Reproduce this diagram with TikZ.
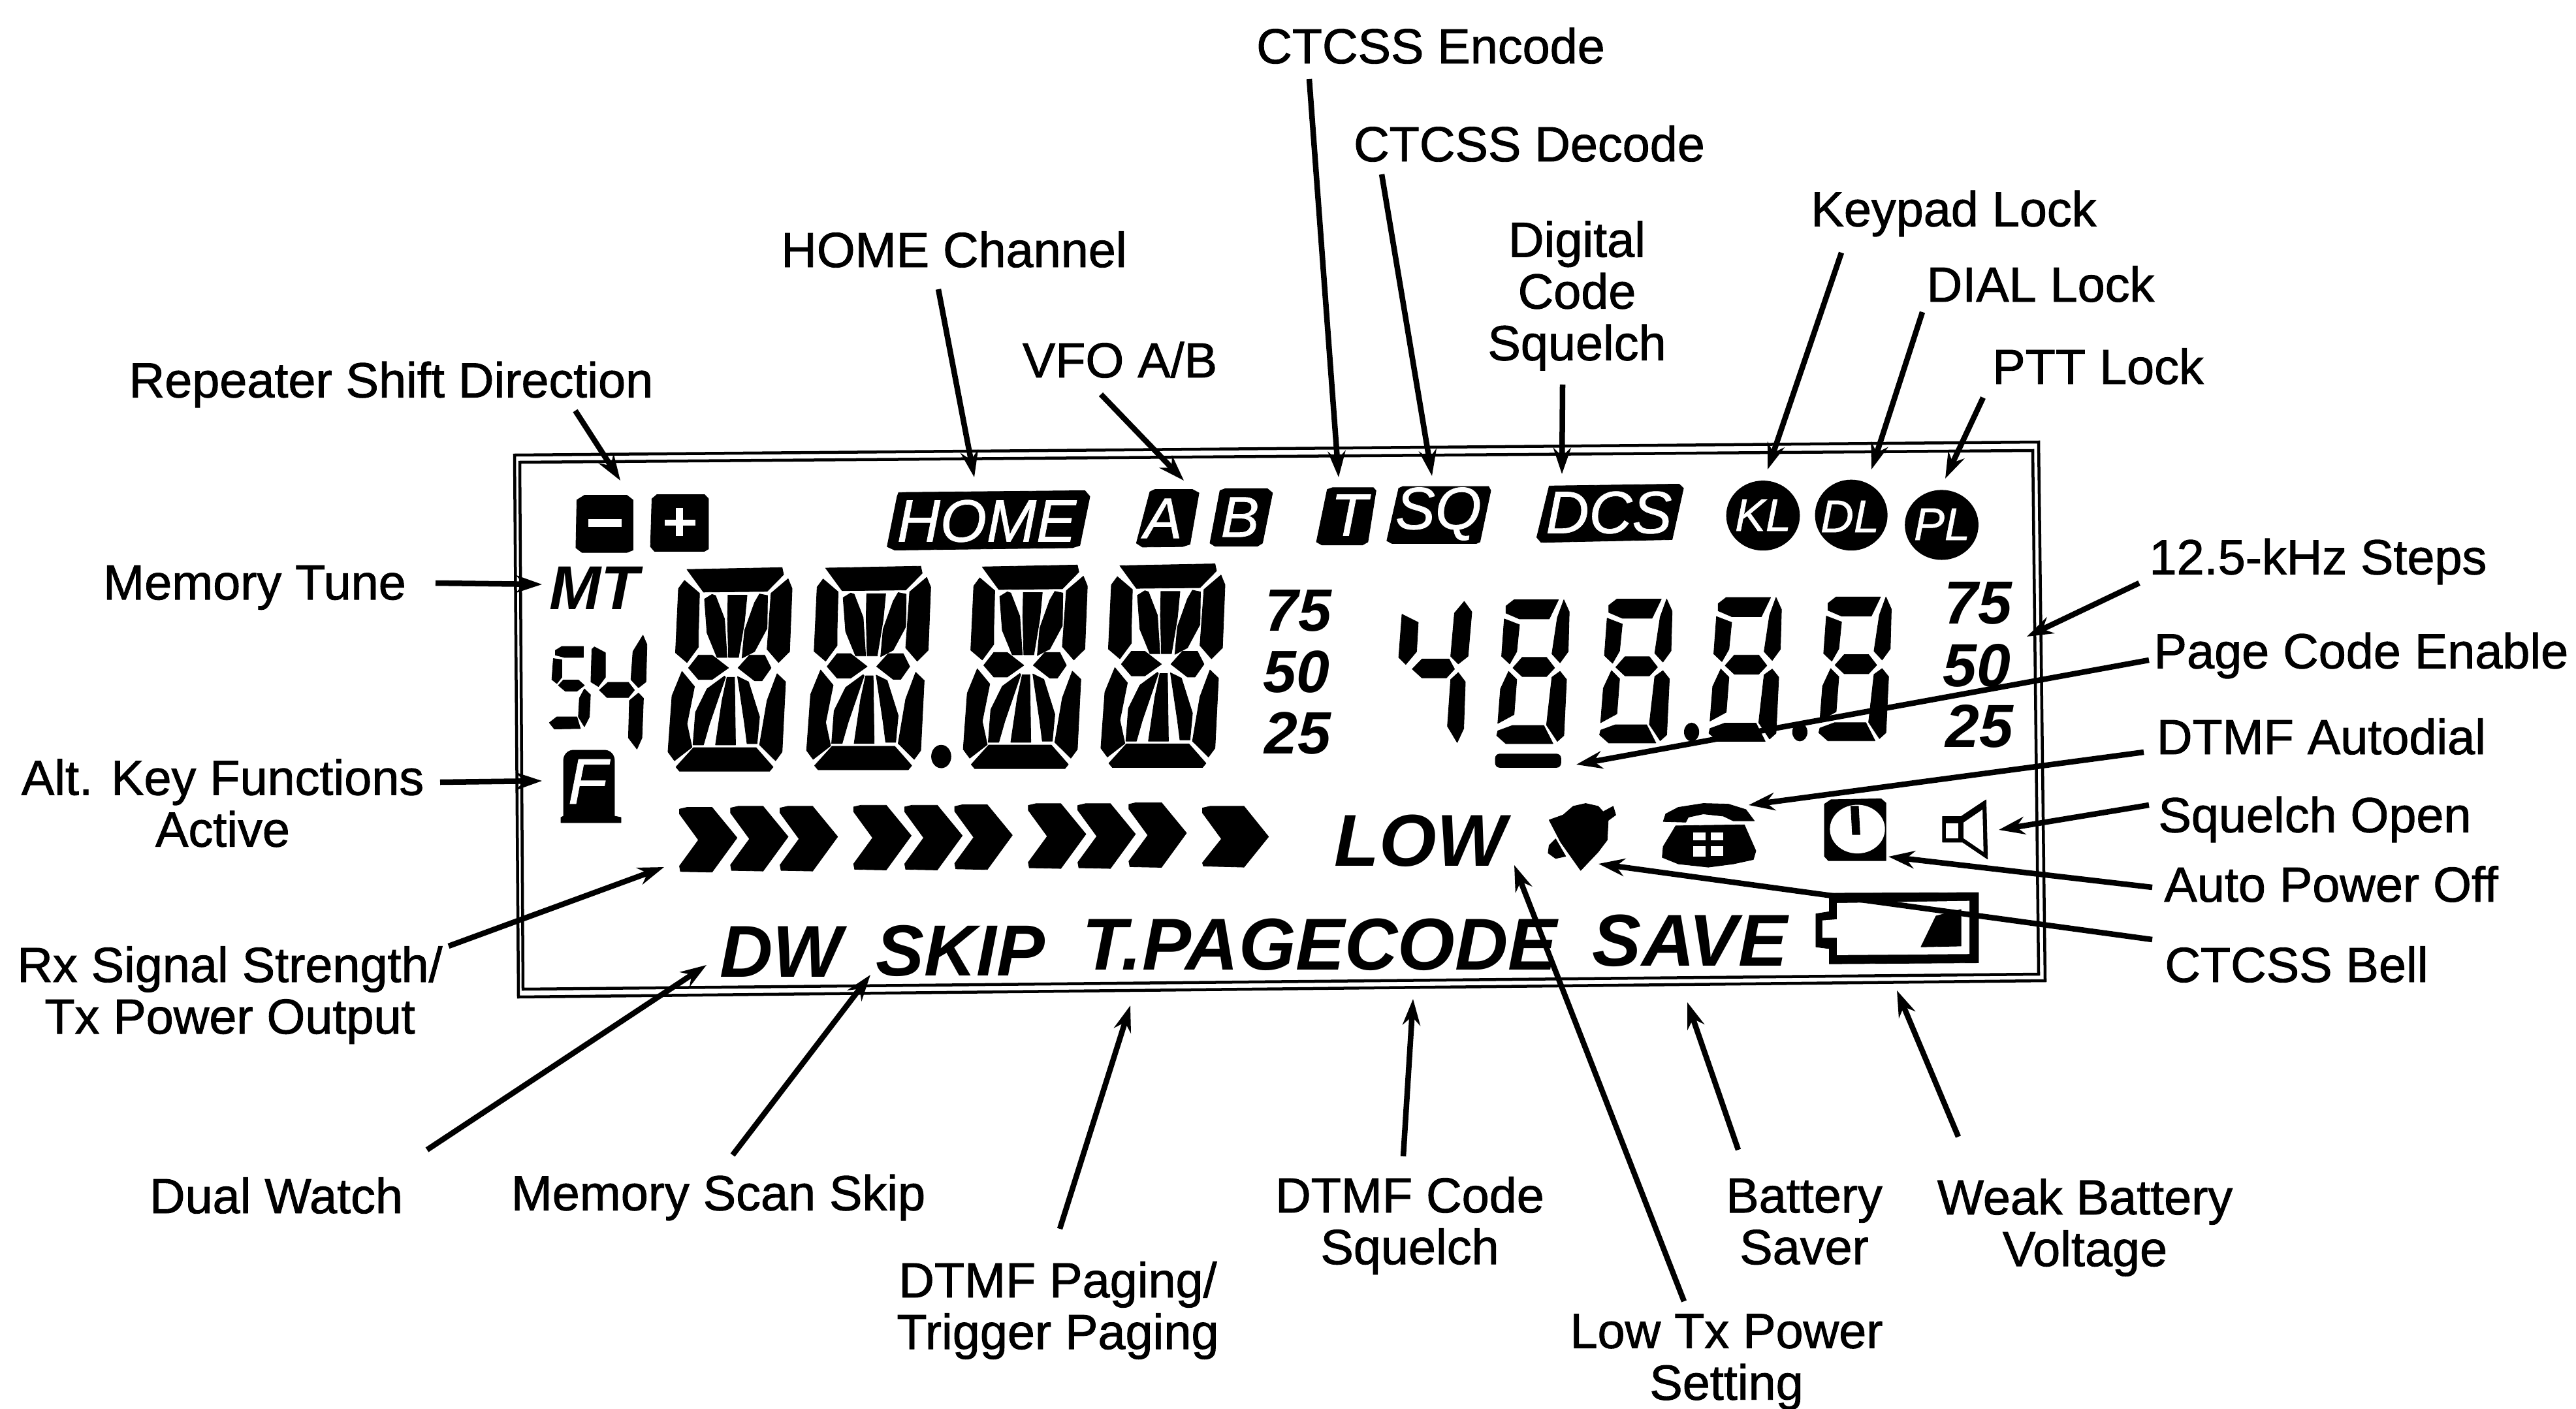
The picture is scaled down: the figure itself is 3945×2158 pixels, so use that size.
\documentclass[tikz,border=0pt]{standalone}
\usepackage{fontspec}
\setmainfont{Liberation Sans}
\newfontfamily\lblfont[FakeBold=1.2]{Liberation Sans}
\newfontfamily\wfont[FakeBold=0.8]{Liberation Sans}
\usetikzlibrary{arrows.meta}
\newcommand{\lcdpoly}[1]{\fill[lcdseg] plot coordinates {#1} -- cycle;}
\newcommand{\lcdwhite}[1]{\fill[lcdhole] plot coordinates {#1} -- cycle;}
\newcommand{\bigdig}[2]{\begin{scope}[shift={(#1,#2)}]
\lcdpoly{(355,538)(545,530)(548,560)(515,632)(388,635)}
\lcdpoly{(350,585)(380,640)(378,800)(378,870)(355,937)(332,895)(338,620)}
\lcdpoly{(557,578)(565,620)(560,890)(538,937)(515,880)(523,640)}
\lcdpoly{(405,645)(412,650)(430,750)(435,915)(415,915)(395,810)(390,665)}
\lcdpoly{(437,648)(475,648)(470,760)(458,915)(438,915)(436,750)}
\lcdpoly{(500,643)(516,650)(515,790)(490,890)(465,918)(470,800)(490,680)}
\lcdpoly{(378,905)(405,905)(438,960)(405,1010)(378,1010)(358,960)}
\lcdpoly{(480,905)(510,905)(523,960)(505,1015)(490,1015)(457,960)}
\lcdpoly{(345,975)(370,1040)(355,1200)(365,1300)(330,1358)(317,1320)(325,1080)}
\lcdpoly{(535,985)(552,1020)(545,1320)(532,1358)(500,1290)(515,1100)}
\lcdpoly{(430,995)(432,1000)(400,1200)(388,1290)(367,1290)(372,1150)(395,1050)}
\lcdpoly{(435,1000)(450,1000)(452,1290)(412,1290)(425,1100)}
\lcdpoly{(456,997)(478,1020)(500,1170)(495,1285)(475,1285)(470,1200)}
\lcdpoly{(368,1302)(493,1302)(527,1385)(520,1403)(340,1403)(333,1385)}
\end{scope}}
\newcommand{\sevdig}[2]{\begin{scope}[shift={(#1,#2)}]
\lcdpoly{(505,668)(587,668)(570,750)(515,750)(490,725)(490,695)}
\lcdpoly{(597,668)(607,720)(605,890)(590,938)(575,900)(585,745)}
\lcdpoly{(487,750)(515,775)(510,890)(497,943)(482,910)}
\lcdpoly{(520,915)(565,915)(580,960)(565,997)(520,997)(503,960)}
\lcdpoly{(590,975)(602,1010)(597,1250)(585,1275)(565,1205)(575,1000)}
\lcdpoly{(495,975)(510,1010)(505,1160)(475,1198)(480,1050)}
\lcdpoly{(502,1207)(560,1207)(577,1285)(490,1285)(473,1250)(475,1230)}
\end{scope}}
\newcommand{\chev}[2]{\begin{scope}[shift={(#1,#2)}]
\lcdpoly{(0,8)(15,0)(65,0)(115,140)(65,298)(2,295)(0,270)(38,150)(0,30)}
\end{scope}}
\tikzset{
 lcdseg/.style={fill=black,draw=black,line width=0.25pt,line join=round},
 lcdhole/.style={fill=white,draw=none},
 lbl/.style={font=\lblfont\fontsize{21.5}{22.5}\selectfont,align=center,inner sep=0pt,text=black},
 arr/.style={draw=black,line width=0.085cm,-{Stealth[length=0.4cm,width=0.27cm]}},
 whitelab/.style={text=white,inner sep=0pt,font=\wfont\itshape\fontsize{#1}{#1}\selectfont},
 boldlab/.style={text=black,inner sep=0pt,font=\bfseries\itshape\fontsize{#1}{#1}\selectfont},
 frameline/.style={draw=black,line width=0.045cm,line join=miter},
}
\begin{document}
\begin{tikzpicture}[x=0.01cm,y=-0.01cm]
\useasboundingbox (0,0) rectangle (3945,2158);
\fill[white] (0,0) rectangle (3945,2158);
% frame
\draw[frameline] (788,697)--(3122,677)--(3132,1502)--(794,1527)--cycle;
\draw[frameline] (796,708)--(3113,690)--(3122,1492)--(801,1515)--cycle;
% left area, zoom units of crop 1
\begin{scope}[shift={(780,680)},x=0.007653cm,y=-0.003571cm]
\lcdpoly{(135,240)(150,220)(235,220)(247,240)(247,455)(235,465)(145,465)(133,445)}
\lcdwhite{(158,322)(224,322)(224,355)(158,355)}
\lcdpoly{(285,235)(295,217)(390,217)(398,235)(398,450)(390,460)(290,460)(282,440)}
\lcdwhite{(310,325)(372,325)(372,350)(310,350)}
\lcdwhite{(333,275)(347,275)(347,395)(333,395)}
\lcdpoly{(778,208)(1150,200)(1160,225)(1140,435)(1125,445)(770,455)(755,440)(775,225)}
\lcdpoly{(1280,205)(1290,195)(1365,195)(1378,210)(1360,430)(1345,440)(1265,442)(1253,425)}
\lcdpoly{(1420,200)(1430,192)(1515,192)(1525,210)(1505,425)(1495,438)(1410,438)(1400,425)}
\bigdig{0}{0}
\bigdig{277}{-6}
\bigdig{590}{-11}
\bigdig{865}{-16}
\fill (863,1340) ellipse [x radius=20,y radius=50];
% 54
\lcdpoly{(92,885)(105,868)(148,868)(148,915)(110,915)(92,905)}
\lcdpoly{(88,920)(105,925)(105,1000)(95,1027)(85,1010)}
\lcdpoly{(108,1012)(138,1012)(150,1035)(135,1060)(112,1060)(98,1035)}
\lcdpoly{(150,1050)(162,1075)(160,1170)(150,1212)(138,1170)(140,1090)}
\lcdpoly{(95,1170)(135,1170)(142,1220)(90,1222)(80,1195)}
\lcdpoly{(170,870)(192,895)(192,1000)(178,1040)(163,1020)(165,880)}
\lcdpoly{(267,820)(275,860)(273,1020)(258,1045)(243,1010)(247,890)}
\lcdpoly{(197,1022)(238,1022)(250,1055)(238,1087)(195,1087)(180,1055)}
\lcdpoly{(258,1068)(268,1090)(265,1260)(255,1308)(238,1260)(240,1100)}
\end{scope}
% F box
\fill[lcdseg] (863,1165) to[out=90,in=180] (878,1149) -- (926,1149) to[out=0,in=90] (941,1165) -- (941,1250) -- (951,1252) -- (951,1260) -- (859,1260) -- (859,1252) -- (863,1250) -- cycle;
\node[whitelab=28] (fsym) at (900,1197) {F};
% right area, crop 2
\begin{scope}[shift={(1900,680)},x=0.00829cm,y=-0.003571cm]
\lcdpoly{(160,195)(170,187)(245,187)(250,200)(235,420)(225,433)(150,433)(140,420)}
\lcdpoly{(292,190)(300,182)(458,182)(462,200)(442,420)(435,427)(280,427)(270,415)}
\lcdpoly{(570,180)(810,172)(818,190)(797,410)(555,422)(547,400)}
\fill (965,307) ellipse [x radius=68,y radius=150];
\fill (1128,305) ellipse [x radius=67,y radius=152];
\fill (1295,347) ellipse [x radius=68,y radius=150];
\lcdpoly{(298,730)(328,765)(325,890)(305,945)(292,915)}
\lcdpoly{(413,675)(427,720)(420,910)(402,943)(388,910)(395,725)}
\lcdpoly{(335,922)(385,922)(395,965)(380,1003)(335,1003)(317,965)}
\lcdpoly{(402,980)(415,1020)(412,1220)(400,1280)(382,1210)(388,1010)}
\sevdig{0}{0}
\sevdig{190}{-3}
\sevdig{392}{-10}
\sevdig{595}{-12}
\fill (833,1235) ellipse [x radius=14,y radius=40];
\fill (1033,1235) ellipse [x radius=14,y radius=40];
\fill[rounded corners=2pt] (470,1328) rectangle (592,1388);
\end{scope}
% chevrons, crop 3
\begin{scope}[shift={(780,1180)},x=0.007653cm,y=-0.003333cm]
\chev{340}{170}
\chev{442}{165}
\chev{541}{165}
\chev{688}{160}
\chev{790}{160}
\chev{890}{158}
\chev{1037}{153}
\chev{1136}{153}
\chev{1238}{148}
\lcdpoly{(1385,173)(1400,165)(1468,165)(1517,305)(1468,445)(1387,440)(1385,425)(1423,315)(1385,195)}
\end{scope}
% icons, crop 4
\begin{scope}[shift={(1980,1180)},x=0.007653cm,y=-0.003333cm]
\lcdpoly{(512,228)(540,205)(560,165)(585,152)(610,165)(620,190)(640,165)(645,205)(630,230)(628,320)(610,375)(575,460)(535,330)}
\lcdpoly{(525,315)(545,395)(525,405)(510,380)(512,345)}
\lcdpoly{(740,235)(745,200)(770,170)(820,152)(870,155)(905,180)(922,232)(880,232)(860,210)(820,200)(790,215)(785,238)}
\lcdpoly{(765,255)(902,250)(925,370)(920,410)(880,430)(830,445)(770,430)(738,400)(740,350)}
\lcdwhite{(800,285)(825,285)(825,322)(800,322)}
\lcdwhite{(835,285)(860,285)(860,320)(835,320)}
\lcdwhite{(800,350)(825,350)(825,397)(800,397)}
\lcdwhite{(835,350)(860,350)(860,395)(835,395)}
\lcdpoly{(1075,135)(1175,130)(1185,150)(1185,415)(1070,415)(1062,395)(1062,155)}
\fill[white] (1128,270) ellipse [x radius=55,y radius=112];
\lcdpoly{(1115,165)(1118,295)(1133,295)(1130,165)}
\lcdpoly{(1298,212)(1335,212)(1385,135)(1388,408)(1338,330)(1298,330)}
\lcdwhite{(1305,242)(1330,242)(1330,312)(1305,312)}
\lcdwhite{(1340,240)(1378,180)(1380,375)(1340,312)}
\lcdpoly{(1072,565)(1370,562)(1370,885)(1072,890)(1072,820)(1045,812)(1045,660)(1072,650)}
\lcdwhite{(1087,610)(1352,600)(1352,845)(1087,850)(1087,770)(1058,770)(1058,690)(1087,685)}
\lcdpoly{(1285,670)(1335,640)(1335,808)(1255,812)}
\end{scope}
% LCD texts
\node[whitelab=26] (home) at (1511,798) {HOME};
\node[whitelab=25] (asym) at (1781,794) {A};
\node[whitelab=25] (bsym) at (1899,792) {B};
\node[whitelab=26] (tsym) at (2066,789) {T};
\node[whitelab=26] (sqsym) at (2203,787) {SQ};
\node[whitelab=26] (dcssym) at (2464,785) {DCS};
\node[whitelab=20] (klsym) at (2700,789) {KL};
\node[whitelab=20] (dlsym) at (2833,791) {DL};
\node[whitelab=20] (plsym) at (2974,803) {PL};
\node[boldlab=27] (mtsym) at (910,901) {MT};
\node[boldlab=26] (l75) at (1988,935) {75};
\node[boldlab=26] (l50) at (1985,1029) {50};
\node[boldlab=26] (l25) at (1987,1123) {25};
\node[boldlab=26.5] (r75) at (3029,924) {75};
\node[boldlab=26.5] (r50) at (3027,1019) {50};
\node[boldlab=26.5] (r25) at (3031,1112) {25};
\node[boldlab=32] (low) at (2175,1288) {LOW};
\node[boldlab=32] (dw) at (1196,1458) {DW};
\node[boldlab=31.5] (skip) at (1471,1456) {SKIP};
\node[boldlab=32] (tpage) at (2021,1447) {T.PAGECODE};
\node[boldlab=32] (save) at (2588,1441) {SAVE};
% labels
\node[lbl] (encode) at (2191,70) {CTCSS Encode};
\node[lbl] (decode) at (2342,220) {CTCSS Decode};
\node[lbl] (dcslab) at (2415,453) {Digital\\Code\\Squelch};
\node[lbl] (keypad) at (2992,327) {Keypad Lock};
\node[lbl] (dial) at (3125,435) {DIAL Lock};
\node[lbl] (ptt) at (3213,561) {PTT Lock};
\node[lbl] (homelab) at (1461,382) {HOME Channel};
\node[lbl] (vfo) at (1715,551) {VFO A/B};
\node[lbl] (rep) at (599,589) {Repeater Shift Direction};
\node[lbl] (memtune) at (390,900) {Memory Tune};
\node[lbl] (steps) at (3550,860) {12.5-kHz Steps};
\node[lbl] (page) at (3616,1004) {Page Code Enable};
\node[lbl] (auto) at (3555,1128) {DTMF Autodial};
\node[lbl] (sqopen) at (3545,1255) {Squelch Open};
\node[lbl] (apo) at (3570,1354) {Auto Power Off};
\node[lbl] (bell) at (3517,1477) {CTCSS Bell};
\node[lbl] (alt) at (341,1230) {Alt. Key Functions\\Active};
\node[lbl] (rx) at (352,1524) {Rx Signal Strength/\\Tx Power Output};
\node[lbl] (dwlab) at (423,1831) {Dual Watch};
\node[lbl] (scan) at (1100,1834) {Memory Scan Skip};
\node[lbl] (paging) at (1620,2007) {DTMF Paging/\\Trigger Paging};
\node[lbl] (code) at (2159,1877) {DTMF Code\\Squelch};
\node[lbl] (saver) at (2763,1871) {Battery\\Saver};
\node[lbl] (weak) at (3193,1880) {Weak Battery\\Voltage};
\node[lbl] (lowlab) at (2644,2086) {Low Tx Power\\Setting};
% arrow tips
\coordinate (tEnc) at (2050,731);
\coordinate (tDec) at (2193,729);
\coordinate (tDcs) at (2392,726);
\coordinate (tKl) at (2707,719);
\coordinate (tDl) at (2866,719);
\coordinate (tPl) at (2979,733);
\coordinate (tHome) at (1492,731);
\coordinate (tVfo) at (1813,736);
\coordinate (tRep) at (950,736);
\coordinate (tMt) at (830,895);
\coordinate (tSteps) at (3104,975);
\coordinate (tPage) at (2414,1171);
\coordinate (tAuto) at (2678,1233);
\coordinate (tSq) at (3061,1271);
\coordinate (tApo) at (2892,1312);
\coordinate (tBell) at (2448,1323);
\coordinate (tAlt) at (830,1196);
\coordinate (tRx) at (1017,1328);
\coordinate (tDw) at (1082,1478);
\coordinate (tScan) at (1333,1493);
\coordinate (tPaging) at (1731,1540);
\coordinate (tCode) at (2164,1530);
\coordinate (tSaver) at (2584,1535);
\coordinate (tWeak) at (2905,1517);
\coordinate (tLow) at (2319,1325);
% connectors (start offset relative to the label's centre)
\draw[arr] ([shift={(-186,51)}]encode.center) -- (tEnc);
\draw[arr] ([shift={(-226,47)}]decode.center) -- (tDec);
\draw[arr] ([shift={(-22,136)}]dcslab.center) -- (tDcs);
\draw[arr] ([shift={(-172,60)}]keypad.center) -- (tKl);
\draw[arr] ([shift={(-181,43)}]dial.center) -- (tDl);
\draw[arr] ([shift={(-176,48)}]ptt.center) -- (tPl);
\draw[arr] ([shift={(-24,61)}]homelab.center) -- (tHome);
\draw[arr] ([shift={(-29,53)}]vfo.center) -- (tVfo);
\draw[arr] ([shift={(282,40)}]rep.center) -- (tRep);
\draw[arr] ([shift={(277,-7)}]memtune.center) -- (tMt);
\draw[arr] ([shift={(-274,33)}]steps.center) -- (tSteps);
\draw[arr] ([shift={(-325,7)}]page.center) -- (tPage);
\draw[arr] ([shift={(-272,24)}]auto.center) -- (tAuto);
\draw[arr] ([shift={(-254,-22)}]sqopen.center) -- (tSq);
\draw[arr] ([shift={(-274,5)}]apo.center) -- (tApo);
\draw[arr] ([shift={(-221,-38)}]bell.center) -- (tBell);
\draw[arr] ([shift={(333,-32)}]alt.center) -- (tAlt);
\draw[arr] ([shift={(335,-75)}]rx.center) -- (tRx);
\draw[arr] ([shift={(231,-70)}]dwlab.center) -- (tDw);
\draw[arr] ([shift={(22,-65)}]scan.center) -- (tScan);
\draw[arr] ([shift={(3,-125)}]paging.center) -- (tPaging);
\draw[arr] ([shift={(-10,-106)}]code.center) -- (tCode);
\draw[arr] ([shift={(-101,-110)}]saver.center) -- (tSaver);
\draw[arr] ([shift={(-194,-139)}]weak.center) -- (tWeak);
\draw[arr] ([shift={(-65,-93)}]lowlab.center) -- (tLow);
\end{tikzpicture}
\end{document}
